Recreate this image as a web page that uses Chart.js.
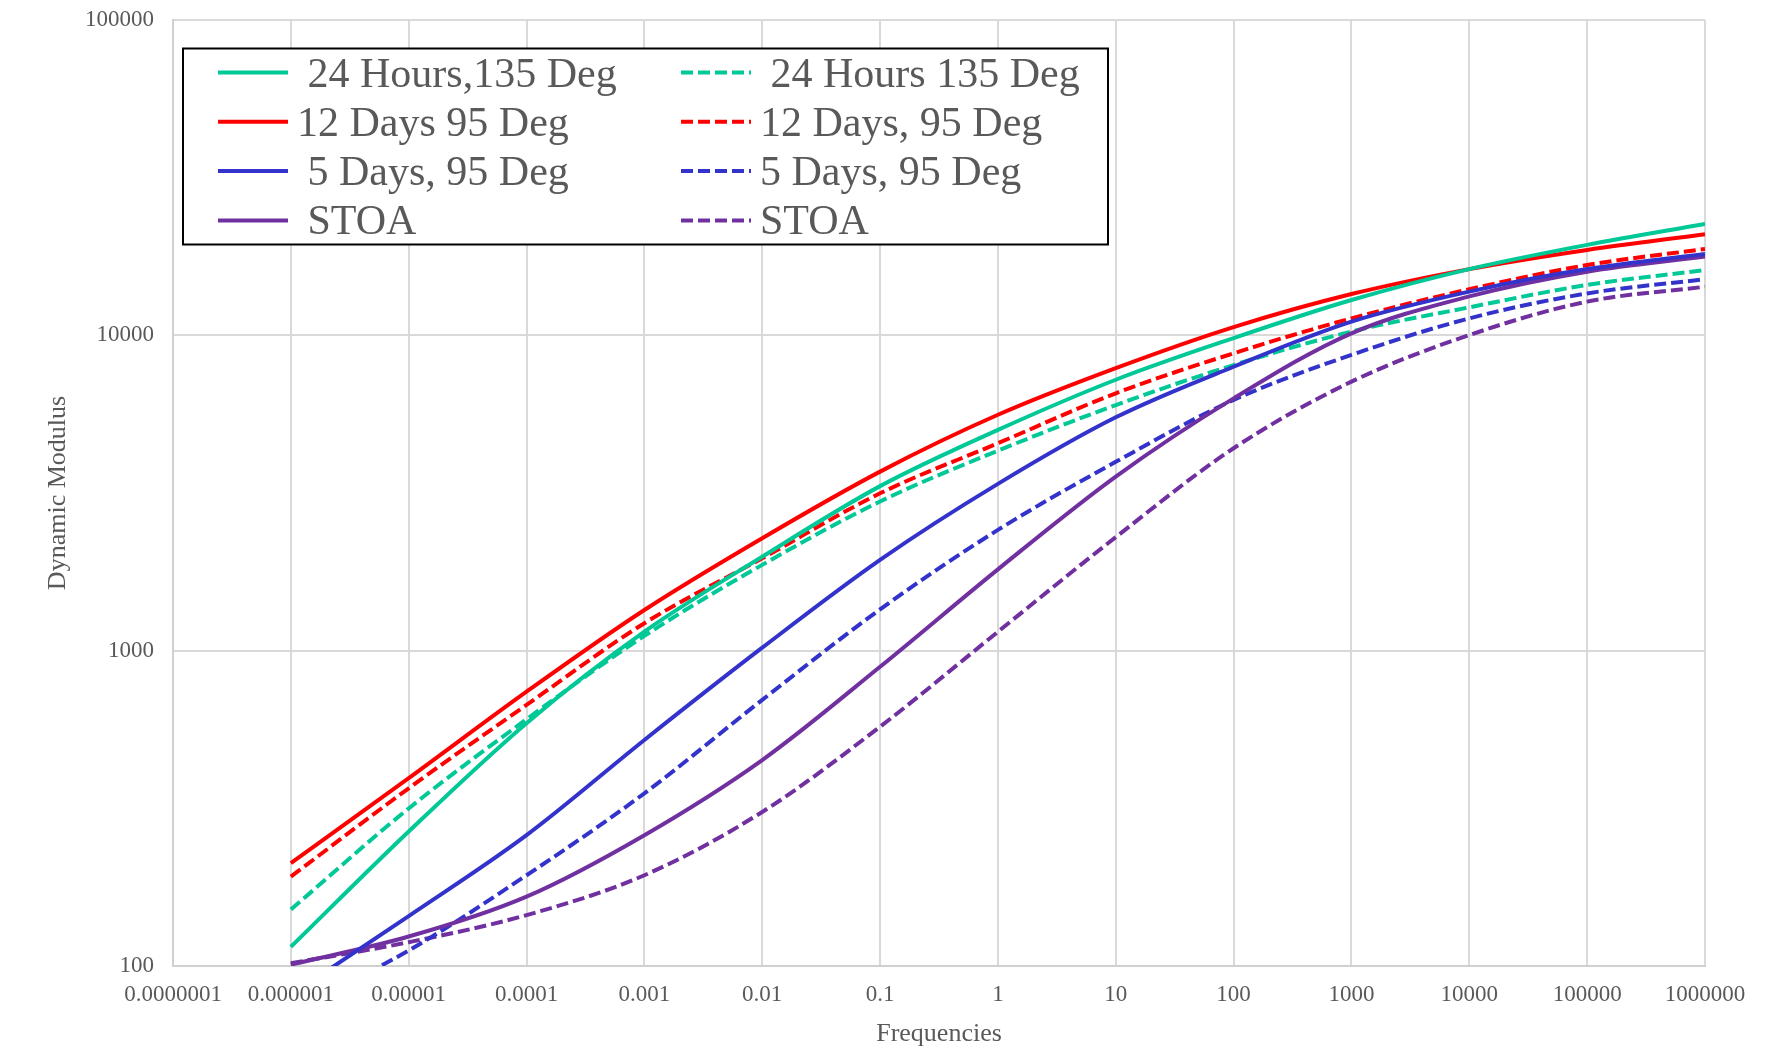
<!DOCTYPE html>
<html>
<head>
<meta charset="utf-8">
<title>Dynamic Modulus</title>
<script src="https://cdn.jsdelivr.net/npm/chart.js@4/dist/chart.umd.min.js"></script>
<style>
  html, body { margin: 0; padding: 0; background: #fff; }
  #wrap { width: 1768px; height: 1052px; position: relative; }
</style>
</head>
<body>
<div id="wrap"><canvas id="chart" width="1768" height="1052"></canvas></div>
<script>
// values, one point per decade
const frequencies = [0.000001, 0.00001, 0.0001, 0.001, 0.01, 0.1, 1, 10, 100, 1000, 10000, 100000, 1000000]

const hours24Solid = [115, 267, 589, 1149, 1986, 3325, 5012, 7230, 9800, 12940, 16220, 19360, 22550]
const days12Solid = [212, 394, 741, 1346, 2273, 3697, 5598, 7870, 10620, 13520, 16220, 18660, 20930]
const days5Solid = [81, 144, 260, 521, 1022, 1941, 3380, 5495, 7950, 11050, 13760, 16220, 18120]
const stoaSolid = [101, 124, 166, 260, 450, 889, 1811, 3565, 6310, 10150, 13290, 15920, 17780]

const hours24Dashed = [151, 316, 606, 1114, 1871, 2972, 4307, 6010, 8050, 10280, 12270, 14450, 16100]
const days12Dashed = [192, 366, 673, 1222, 1963, 3155, 4548, 6550, 8770, 11320, 14000, 16710, 18790]
const days5Dashed = [72, 112, 194, 353, 698, 1352, 2415, 3970, 6240, 8670, 11320, 13580, 15060]
const stoaDashed = [102, 119, 145, 194, 308, 574, 1148, 2291, 4385, 7130, 10020, 12790, 14260]

const xTicks = [0.0000001, 0.000001, 0.00001, 0.0001, 0.001, 0.01, 0.1, 1, 10, 100, 1000, 10000, 100000, 1000000]
const xTickLabels = ['0.0000001', '0.000001', '0.00001', '0.0001', '0.001', '0.01', '0.1', '1', '10', '100', '1000', '10000', '100000', '1000000']
const yTicks = [100, 1000, 10000, 100000]
const yTickLabels = ['100', '1000', '10000', '100000']

const GREEN = '#00C896'
const RED = '#FF0000'
const BLUE = '#3333CC'
const PURPLE = '#7030A0'
const DASH = [12, 5]
const SERIF = '"Liberation Serif", "Times New Roman", serif'

function toPoints(values) {
  return frequencies.map((f, i) => ({ x: f, y: values[i] }))
}

function series(label, values, color, dashed) {
  return {
    label: label,
    data: toPoints(values),
    borderColor: color,
    backgroundColor: color,
    borderWidth: 4,
    borderDash: dashed ? DASH : [],
    pointRadius: 0,
    cubicInterpolationMode: 'monotone',
    fill: false
  }
}

// two column legend in a black box, drawn over the plot like the original
const boxLegend = {
  id: 'boxLegend',
  afterDraw(chart) {
    const ctx = chart.ctx
    ctx.save()
    ctx.fillStyle = '#fff'
    ctx.fillRect(183, 48.5, 925, 196)
    ctx.strokeStyle = '#000'
    ctx.lineWidth = 2
    ctx.setLineDash([])
    ctx.strokeRect(183, 48.5, 925, 196)

    ctx.font = '42px ' + SERIF
    ctx.textAlign = 'left'
    ctx.textBaseline = 'alphabetic'
    chart.data.datasets.forEach((ds, i) => {
      const col = i < 4 ? 0 : 1
      const row = i % 4
      const lx = col == 0 ? 218 : 681
      const ly = 72.5 + row * 49.3
      ctx.strokeStyle = ds.borderColor
      ctx.lineWidth = 4
      ctx.setLineDash(ds.borderDash)
      ctx.beginPath()
      ctx.moveTo(lx, ly)
      ctx.lineTo(lx + 70, ly)
      ctx.stroke()
      ctx.fillStyle = '#595959'
      ctx.fillText(ds.label, lx + 79, ly + 14)
    })
    ctx.restore()
  }
}

const ctx = document.getElementById('chart').getContext('2d')
const chart = new Chart(ctx, {
  type: 'line',
  data: {
    datasets: [
      series(' 24 Hours,135 Deg', hours24Solid, GREEN, false),
      series('12 Days 95 Deg', days12Solid, RED, false),
      series(' 5 Days, 95 Deg', days5Solid, BLUE, false),
      series(' STOA', stoaSolid, PURPLE, false),
      series(' 24 Hours 135 Deg', hours24Dashed, GREEN, true),
      series('12 Days, 95 Deg', days12Dashed, RED, true),
      series('5 Days, 95 Deg', days5Dashed, BLUE, true),
      series('STOA', stoaDashed, PURPLE, true)
    ]
  },
  options: {
    responsive: false,
    animation: false,
    devicePixelRatio: 1,
    layout: { padding: { left: 0, right: 63, top: 20, bottom: 0 } },
    plugins: {
      legend: { display: false },
      tooltip: { enabled: false }
    },
    scales: {
      x: {
        type: 'logarithmic',
        min: 0.0000001,
        max: 1000000,
        afterBuildTicks: scale => { scale.ticks = xTicks.map(v => ({ value: v })) },
        afterFit: scale => { scale.height = 86 },
        ticks: {
          autoSkip: false,
          maxRotation: 0,
          padding: 15,
          color: '#595959',
          font: { family: SERIF, size: 23 },
          callback: (value, index) => xTickLabels[index]
        },
        grid: { color: '#d9d9d9', lineWidth: 2, drawTicks: false },
        border: { color: '#d0d0d0', width: 2 },
        title: {
          display: true,
          text: 'Frequencies',
          color: '#595959',
          font: { family: SERIF, size: 26, lineHeight: 1.2 },
          padding: { top: 0, bottom: 2 }
        }
      },
      y: {
        type: 'logarithmic',
        min: 100,
        max: 100000,
        afterBuildTicks: scale => { scale.ticks = yTicks.map(v => ({ value: v })) },
        afterFit: scale => {
          scale.width = 173
          scale.paddingTop = 0
          scale.paddingBottom = 0
        },
        ticks: {
          padding: 19,
          color: '#595959',
          font: { family: SERIF, size: 23 },
          callback: (value, index) => yTickLabels[index]
        },
        grid: { color: '#d9d9d9', lineWidth: 2, drawTicks: false },
        border: { color: '#d0d0d0', width: 2 },
        title: {
          display: true,
          text: 'Dynamic Modulus',
          color: '#595959',
          font: { family: SERIF, size: 26, lineHeight: 1.2 },
          padding: { top: 43, bottom: 0 }
        }
      }
    }
  },
  plugins: [boxLegend]
})
</script>
</body>
</html>
